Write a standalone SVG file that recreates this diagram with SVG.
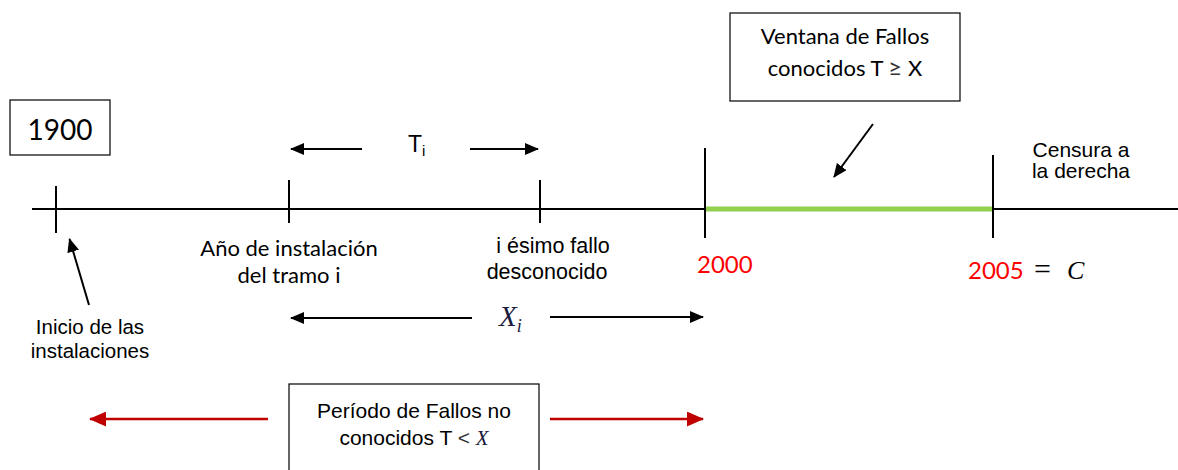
<svg xmlns="http://www.w3.org/2000/svg" width="1178" height="470" viewBox="0 0 1178 470">
<style>
.ln{stroke:#000;stroke-width:2;fill:none}
.tk{stroke:#000;stroke-width:2}
.bx{fill:#fff;stroke:#000;stroke-width:1.2}
.cal{font-family:Lato,"Liberation Sans",sans-serif;fill:#000}
.ar{font-family:"Liberation Sans",Arial,sans-serif;fill:#000}
.mth{font-family:"Liberation Serif",serif;font-style:italic;fill:#1a1a3a}
.red{fill:#ff0000}
</style>
<defs>
<marker id="ah" markerWidth="7" markerHeight="6" refX="6.5" refY="3" orient="auto" markerUnits="strokeWidth">
<path d="M0,0 L7,3 L0,6 Z" fill="#000"/>
</marker>
<marker id="ahr" markerWidth="7" markerHeight="6" refX="6.5" refY="3" orient="auto" markerUnits="strokeWidth">
<path d="M0,0 L7,3 L0,6 Z" fill="#c00000"/>
</marker>
</defs>

<g id="axis">
<line class="ln" x1="32" y1="209" x2="1178" y2="209"/>
<line x1="705" y1="209" x2="993" y2="209" stroke="#92d050" stroke-width="5"/>
<line class="tk" x1="56" y1="186" x2="56" y2="233"/>
<line class="tk" x1="289" y1="180" x2="289" y2="223"/>
<line class="tk" x1="540" y1="180" x2="540" y2="223"/>
<line class="tk" x1="705" y1="148" x2="705" y2="238"/>
<line class="tk" x1="993" y1="155" x2="993" y2="238"/>
</g>

<g id="connectors">
<line class="ln" x1="362" y1="149" x2="291" y2="149" stroke-width="2.5" marker-end="url(#ah)"/>
<line class="ln" x1="470" y1="149" x2="538" y2="149" stroke-width="2.5" marker-end="url(#ah)"/>
<line class="ln" x1="89" y1="305" x2="69.5" y2="239" stroke-width="2.5" marker-end="url(#ah)"/>
<line class="ln" x1="873" y1="124" x2="834" y2="177" stroke-width="2.5" marker-end="url(#ah)"/>
<line class="ln" x1="472" y1="318" x2="291" y2="318" stroke-width="2.5" marker-end="url(#ah)"/>
<line class="ln" x1="550" y1="317" x2="703" y2="317" stroke-width="2.5" marker-end="url(#ah)"/>
<line x1="268" y1="419" x2="90" y2="419" stroke="#c00000" stroke-width="2.5" marker-end="url(#ahr)"/>
<line x1="550" y1="419" x2="703" y2="419" stroke="#c00000" stroke-width="2.5" marker-end="url(#ahr)"/>
</g>

<g id="n1900">
<rect class="bx" x="10" y="100" width="100" height="55"/>
<text class="cal" x="60" y="140" font-size="28" text-anchor="middle">1900</text>
</g>

<g id="ventana">
<rect class="bx" x="730" y="13" width="230" height="88"/>
<text class="cal" x="845" y="44" font-size="22" text-anchor="middle">Ventana de Fallos</text>
<text class="cal" x="845" y="76" font-size="22" text-anchor="middle">conocidos T <tspan fill="#333" font-size="24">≥</tspan> X</text>
</g>

<g id="ti">
<text class="ar" x="408" y="152" font-size="23">T<tspan font-size="15" dy="4">i</tspan></text>
</g>

<g id="instalacion">
<text class="cal" x="289" y="256" font-size="22" text-anchor="middle">Año de instalación</text>
<text class="cal" x="289" y="283" font-size="22" text-anchor="middle">del tramo i</text>
</g>

<g id="fallo">
<text class="ar" x="553" y="253" font-size="21.5" text-anchor="middle">i ésimo fallo</text>
<text class="ar" x="547" y="279" font-size="21.5" text-anchor="middle">desconocido</text>
</g>

<g id="y2000">
<text class="cal red" x="697" y="273" font-size="24">2000</text>
</g>

<g id="y2005">
<text class="cal red" x="968" y="279" font-size="24">2005</text>
<text font-family="'Liberation Serif',serif" font-size="30" x="1034" y="279" fill="#000">=</text>
<text font-family="'Liberation Serif',serif" font-style="italic" font-size="26" x="1067" y="279" fill="#000">C</text>
</g>

<g id="censura">
<text class="ar" x="1081" y="157" font-size="21" text-anchor="middle">Censura a</text>
<text class="ar" x="1081" y="178" font-size="21" text-anchor="middle">la derecha</text>
</g>

<g id="inicio">
<text class="ar" x="90" y="334" font-size="20.5" text-anchor="middle">Inicio de las</text>
<text class="ar" x="90" y="358" font-size="20.5" text-anchor="middle">instalaciones</text>
</g>

<g id="xi">
<text class="mth" x="499" y="326" font-size="29">X<tspan font-size="18" dy="6">i</tspan></text>
</g>

<g id="periodo">
<rect class="bx" x="289" y="384" width="250" height="90"/>
<text class="ar" x="414" y="418" font-size="21" text-anchor="middle">Período de Fallos no</text>
<text class="ar" x="414" y="445" font-size="21" text-anchor="middle">conocidos T <tspan fill="#333">&lt;</tspan> <tspan font-family="'Liberation Serif',serif" font-style="italic" fill="#1a1a3a">X</tspan></text>
</g>
</svg>
